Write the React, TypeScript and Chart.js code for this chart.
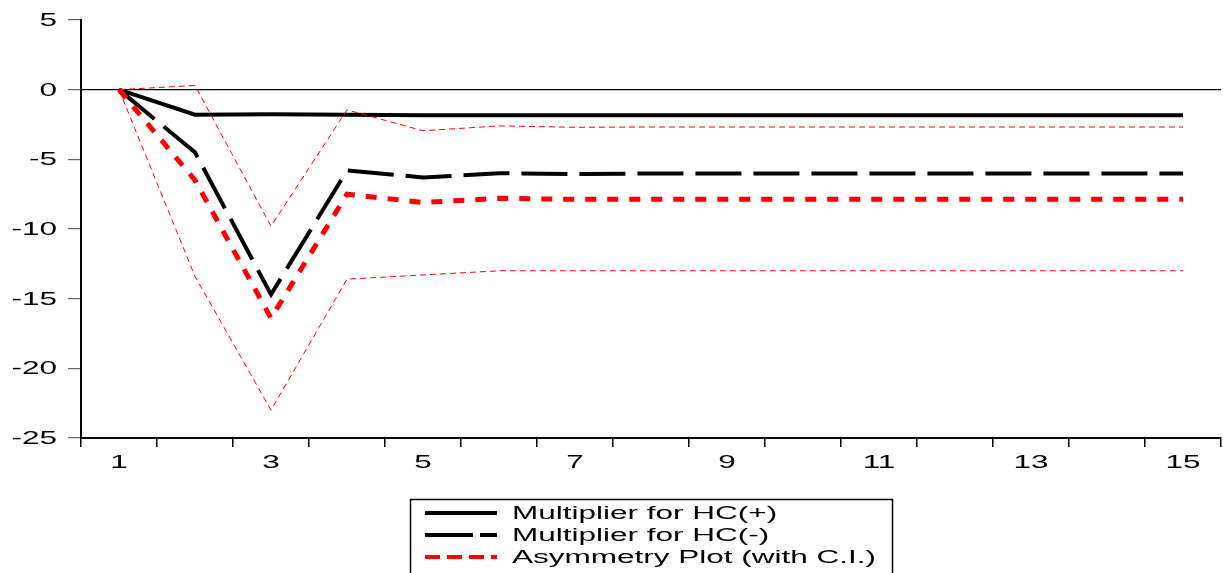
import React, { useEffect, useRef } from "react";
import { Chart, registerables } from "chart.js";

Chart.register(...registerables);

const periods = ["1", "2", "3", "4", "5", "6", "7", "8", "9", "10", "11", "12", "13", "14", "15"];
const hcPlus = [0, -1.8, -1.76, -1.8, -1.84, -1.84, -1.84, -1.84, -1.84, -1.84, -1.84, -1.84, -1.84, -1.84, -1.84];
const hcMinus = [0, -4.5, -14.7, -5.8, -6.3, -6.0, -6.05, -6.02, -6.02, -6.02, -6.02, -6.02, -6.02, -6.02, -6.02];
const asymmetry = [0, -6.5, -16.4, -7.5, -8.1, -7.8, -7.87, -7.86, -7.86, -7.86, -7.86, -7.86, -7.86, -7.86, -7.86];
const upperCI = [0, 0.3, -9.8, -1.45, -2.95, -2.6, -2.7, -2.68, -2.68, -2.68, -2.68, -2.68, -2.68, -2.68, -2.68];
const lowerCI = [0, -13.4, -23.0, -13.6, -13.3, -13.0, -13.0, -13.0, -13.0, -13.0, -13.0, -13.0, -13.0, -13.0, -13.0];
const legendLabels = ["Multiplier for HC(+)", "Multiplier for HC(-)", "Asymmetry Plot (with C.I.)"];

const FONT = '18px "Liberation Sans", Arial, sans-serif';
const SX = 1.75;

function stretchedText(ctx: CanvasRenderingContext2D, text: string, x: number, y: number, align: CanvasTextAlign) {
  ctx.save();
  ctx.translate(x, y);
  ctx.scale(SX, 1);
  ctx.textAlign = align;
  ctx.textBaseline = "middle";
  ctx.fillText(text, 0, 0);
  ctx.restore();
}

const customDraw = {
  id: "customDraw",
  afterDraw(chart: any) {
    const ctx: CanvasRenderingContext2D = chart.ctx;
    const xs = chart.scales.x;
    const ys = chart.scales.y;
    ctx.save();
    ctx.font = FONT;
    ctx.fillStyle = "#000";
    // y tick labels
    ys.ticks.forEach((t: any) => {
      const y = ys.getPixelForValue(t.value);
      stretchedText(ctx, String(t.value), 57, y + 1, "right");
    });
    // x tick labels (odd periods)
    periods.forEach((p, i) => {
      if (i % 2 === 0) {
        const x = xs.getPixelForTick(i);
        stretchedText(ctx, p, x, xs.top + 25, "center");
      }
    });
    // legend
    const bx = 410, by = 499, bw = 482, bh = 90;
    ctx.lineWidth = 1.5;
    ctx.strokeStyle = "#000";
    ctx.strokeRect(bx + 0.5, by + 0.5, bw, bh);
    const rows = [513, 535, 557];
    const styles = [
      { color: "#000", dash: [] as number[], width: 4 },
      { color: "#000", dash: [48, 7], width: 4 },
      { color: "#ff0000", dash: [15, 7], width: 4 },
    ];
    rows.forEach((ry, i) => {
      const s = styles[i];
      ctx.save();
      ctx.beginPath();
      ctx.strokeStyle = s.color;
      ctx.lineWidth = s.width;
      ctx.setLineDash(s.dash);
      ctx.moveTo(425, ry);
      ctx.lineTo(497, ry);
      ctx.stroke();
      ctx.restore();
      ctx.fillStyle = "#000";
      stretchedText(ctx, legendLabels[i], 512, ry + 1, "left");
    });
    ctx.restore();
  },
};

export default function App() {
  const ref = useRef<HTMLCanvasElement | null>(null);
  useEffect(() => {
    document.body.style.margin = "0";
    const canvas = ref.current!;
    const chart = new Chart(canvas, {
      type: "line",
      data: {
        labels: periods,
        datasets: [
          { label: "upper", data: upperCI, borderColor: "#ff0000", borderWidth: 1, borderDash: [6, 4], pointRadius: 0, fill: false, tension: 0 },
          { label: "lower", data: lowerCI, borderColor: "#ff0000", borderWidth: 1, borderDash: [6, 4], pointRadius: 0, fill: false, tension: 0 },
          { label: legendLabels[2], data: asymmetry, borderColor: "#ff0000", borderWidth: 5, borderDash: [11, 11], pointRadius: 0, fill: false, tension: 0 },
          { label: legendLabels[1], data: hcMinus, borderColor: "#000", borderWidth: 4, borderDash: [46, 12], pointRadius: 0, fill: false, tension: 0 },
          { label: legendLabels[0], data: hcPlus, borderColor: "#000", borderWidth: 4, pointRadius: 0, fill: false, tension: 0 },
        ],
      },
      options: {
        responsive: false,
        animation: false,
        layout: { padding: { top: 20, right: 2, left: 0, bottom: 0 } },
        plugins: { legend: { display: false }, tooltip: { enabled: false } },
        scales: {
          x: {
            type: "category",
            offset: true,
            grid: { offset: true, drawOnChartArea: false, drawTicks: true, tickLength: 9, tickColor: "#000", lineWidth: 1.5 },
            border: { display: true, color: "#000", width: 2 },
            ticks: { display: false, autoSkip: false, maxRotation: 0 },
            afterFit: (s: any) => { s.height = 135; },
          },
          y: {
            min: -25,
            max: 5,
            grid: {
              drawOnChartArea: true,
              drawTicks: true,
              tickLength: 13,
              tickColor: "#666",
              color: (c: any) => (c.tick && c.tick.value === 0 ? "#000" : "rgba(0,0,0,0)"),
              lineWidth: 1.2,
            },
            border: { display: true, color: "#000", width: 2 },
            ticks: { display: false, stepSize: 5 },
            afterFit: (s: any) => { s.width = 81; },
          },
        },
      },
      plugins: [customDraw],
    });
    return () => chart.destroy();
  }, []);
  return (
    <div style={{ position: "absolute", left: 0, top: 0, width: 1223, height: 573 }}>
      <canvas ref={ref} width={1223} height={573} />
    </div>
  );
}
